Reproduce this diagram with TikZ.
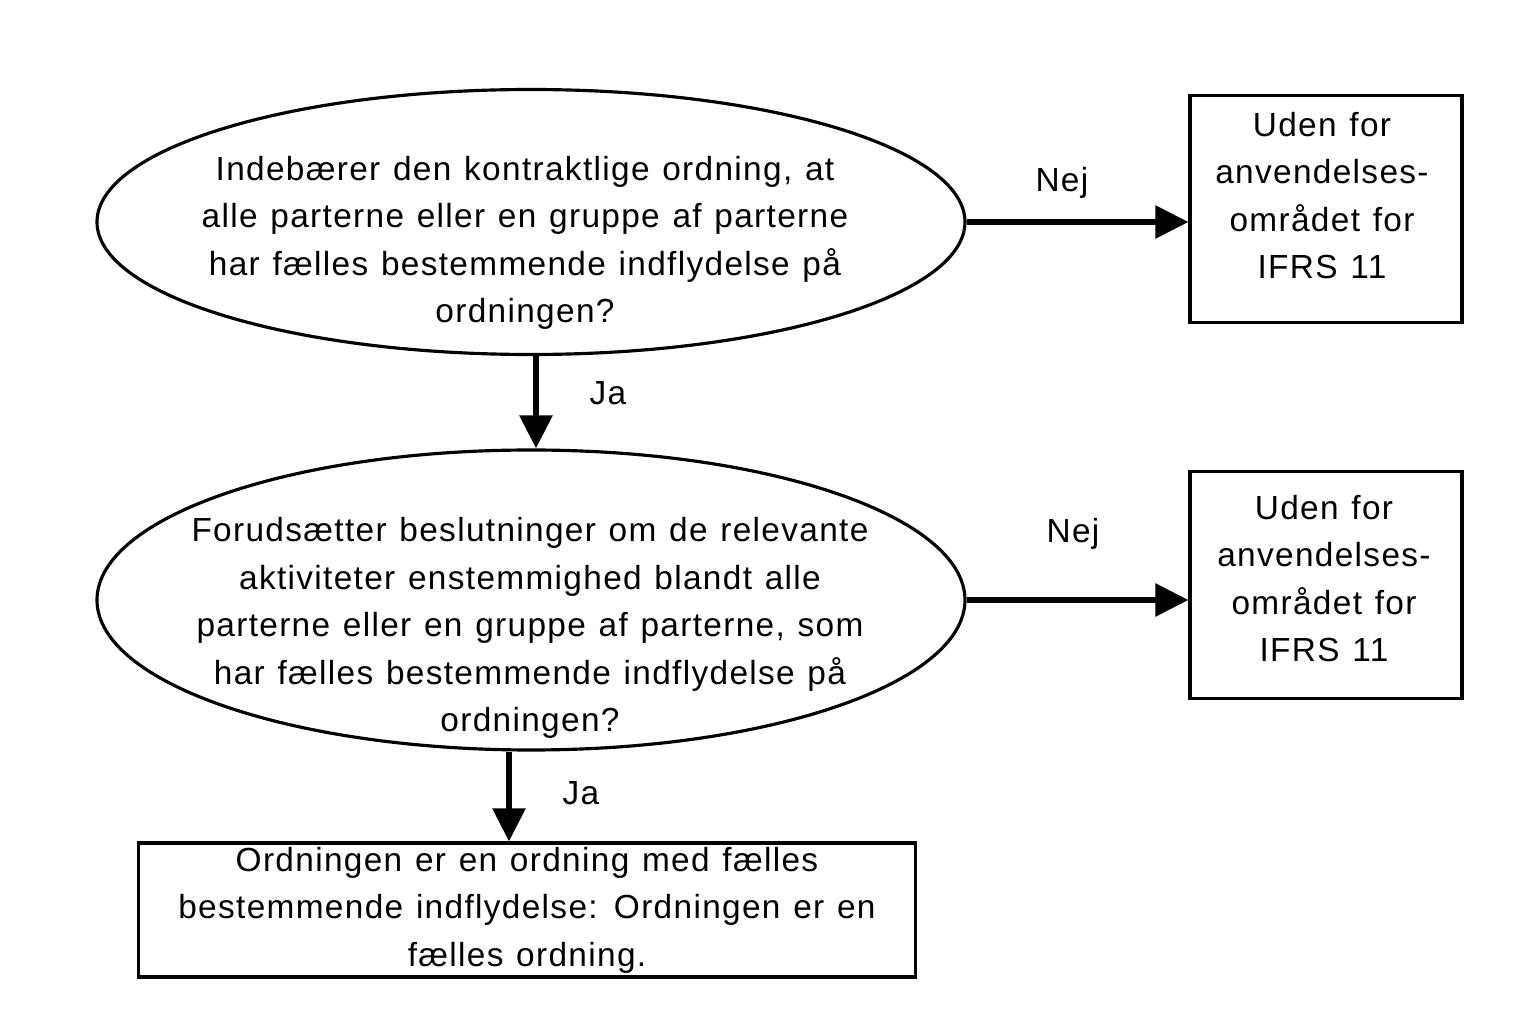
\documentclass[tikz,border=0pt]{standalone}
\usepackage{fontspec}
\newfontfamily\chartfont[LetterSpace=4,WordSpace=1.2]{Liberation Sans}
\usetikzlibrary{arrows.meta,shapes.geometric}
\tikzset{
  chartlabel/.style={font=\chartfont\fontsize{9.5}{13.5}\selectfont, align=center},
  question/.style={ellipse, draw, line width=0.9pt, inner sep=0pt,
                   minimum width=8.68cm},
  qtext/.style={chartlabel, inner sep=0pt},
  outbox/.style={rectangle, draw, line width=0.9pt, inner sep=0pt,
                 minimum width=2.72cm, minimum height=2.27cm},
  resbox/.style={rectangle, draw, line width=0.9pt, chartlabel, inner sep=0pt,
                 minimum width=7.77cm, minimum height=1.34cm},
  flow/.style={-{Triangle[length=3.3mm, width=3.2mm]}, line width=1.6pt},
  flowlab/.style={chartlabel, inner sep=1pt},
}
\begin{document}
\begin{tikzpicture}[x=1cm, y=1cm]
  \useasboundingbox (0,0) rectangle (15.4,-10.28);
  \fill[white] (0,0) rectangle (15.4,-10.28);
  % first question
  \node[question, minimum height=2.65cm] (q1) at (5.31,-2.22) {};
  \node[qtext] (q1txt) at (5.25,-2.43)
    {Indebærer den kontraktlige ordning, at\\
     alle parterne eller en gruppe af parterne\\
     har fælles bestemmende indflydelse på\\
     ordningen?};
  \node[outbox] (out1) at (13.26,-2.09) {};
  \node[qtext] (out1txt) at (13.22,-1.955)
    {Uden for\\anvendelses-\\området for\\IFRS 11};
  % second question
  \node[question, minimum height=3.0cm] (q2) at (5.31,-6.00) {};
  \node[qtext] (q2txt) at (5.30,-6.28)
    {Forudsætter beslutninger om de relevante\\
     aktiviteter enstemmighed blandt alle\\
     parterne eller en gruppe af parterne, som\\
     har fælles bestemmende indflydelse på\\
     ordningen?};
  \node[outbox] (out2) at (13.26,-5.85) {};
  \node[qtext] (out2txt) at (13.24,-5.785)
    {Uden for\\anvendelses-\\området for\\IFRS 11};
  % result
  \node[resbox] (res) at (5.27,-9.10)
    {Ordningen er en ordning med fælles\\
     bestemmende indflydelse: Ordningen er en\\
     fælles ordning.};
  % edges
  \draw[flow] (q1.east) -- (q1.east -| out1.west)
    node[flowlab, pos=0.43, yshift=3.9mm] {Nej};
  \draw[flow] ([xshift=0.5mm]q1.south) -- ([xshift=0.5mm]q2.north)
    node[flowlab, pos=0.4, xshift=7.2mm] {Ja};
  \draw[flow] (q2.east) -- (q2.east -| out2.west)
    node[flowlab, pos=0.48, yshift=6.6mm] {Nej};
  \draw[flow] ([xshift=-2.2mm]q2.south) -- ([xshift=-2.2mm]q2.south |- res.north)
    node[flowlab, pos=0.46, xshift=7.2mm] {Ja};
\end{tikzpicture}
\end{document}
